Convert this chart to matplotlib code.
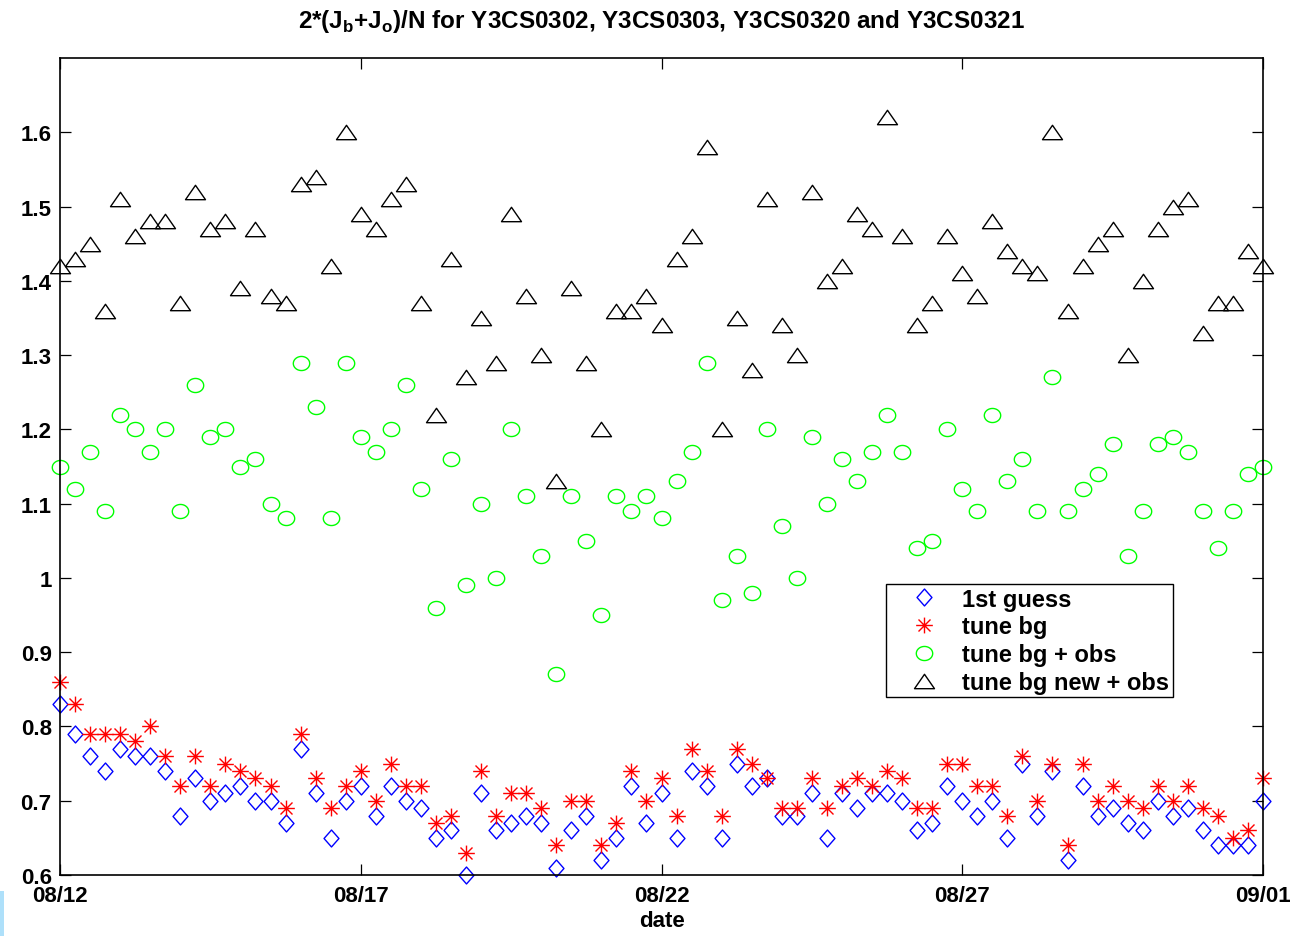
import numpy as np
import pandas as pd
import matplotlib
matplotlib.use("Agg")
import matplotlib.pyplot as plt
import matplotlib.dates as mdates
from matplotlib.path import Path
from matplotlib.ticker import FuncFormatter
from matplotlib.patches import Rectangle

plt.rcParams['font.family'] = ['Liberation Sans', 'DejaVu Sans']
plt.rcParams['font.weight'] = 'bold'
plt.rcParams['mathtext.fontset'] = 'custom'
plt.rcParams['mathtext.rm'] = 'Liberation Sans:bold'
plt.rcParams['mathtext.bf'] = 'Liberation Sans:bold'

# 6-hourly analysis times, 08/12 00Z to 09/01 00Z
times = pd.date_range('2004-08-12 00:00', periods=81, freq='6h')

first_guess = [
    0.83, 0.79, 0.76, 0.74, 0.77, 0.76, 0.76, 0.74, 0.68, 0.73,
    0.70, 0.71, 0.72, 0.70, 0.70, 0.67, 0.77, 0.71, 0.65, 0.70,
    0.72, 0.68, 0.72, 0.70, 0.69, 0.65, 0.66, 0.60, 0.71, 0.66,
    0.67, 0.68, 0.67, 0.61, 0.66, 0.68, 0.62, 0.65, 0.72, 0.67,
    0.71, 0.65, 0.74, 0.72, 0.65, 0.75, 0.72, 0.73, 0.68, 0.68,
    0.71, 0.65, 0.71, 0.69, 0.71, 0.71, 0.70, 0.66, 0.67, 0.72,
    0.70, 0.68, 0.70, 0.65, 0.75, 0.68, 0.74, 0.62, 0.72, 0.68,
    0.69, 0.67, 0.66, 0.70, 0.68, 0.69, 0.66, 0.64, 0.64, 0.64,
    0.70,
]

tune_bg = [
    0.86, 0.83, 0.79, 0.79, 0.79, 0.78, 0.80, 0.76, 0.72, 0.76,
    0.72, 0.75, 0.74, 0.73, 0.72, 0.69, 0.79, 0.73, 0.69, 0.72,
    0.74, 0.70, 0.75, 0.72, 0.72, 0.67, 0.68, 0.63, 0.74, 0.68,
    0.71, 0.71, 0.69, 0.64, 0.70, 0.70, 0.64, 0.67, 0.74, 0.70,
    0.73, 0.68, 0.77, 0.74, 0.68, 0.77, 0.75, 0.73, 0.69, 0.69,
    0.73, 0.69, 0.72, 0.73, 0.72, 0.74, 0.73, 0.69, 0.69, 0.75,
    0.75, 0.72, 0.72, 0.68, 0.76, 0.70, 0.75, 0.64, 0.75, 0.70,
    0.72, 0.70, 0.69, 0.72, 0.70, 0.72, 0.69, 0.68, 0.65, 0.66,
    0.73,
]

tune_bg_obs = [
    1.15, 1.12, 1.17, 1.09, 1.22, 1.20, 1.17, 1.20, 1.09, 1.26,
    1.19, 1.20, 1.15, 1.16, 1.10, 1.08, 1.29, 1.23, 1.08, 1.29,
    1.19, 1.17, 1.20, 1.26, 1.12, 0.96, 1.16, 0.99, 1.10, 1.00,
    1.20, 1.11, 1.03, 0.87, 1.11, 1.05, 0.95, 1.11, 1.09, 1.11,
    1.08, 1.13, 1.17, 1.29, 0.97, 1.03, 0.98, 1.20, 1.07, 1.00,
    1.19, 1.10, 1.16, 1.13, 1.17, 1.22, 1.17, 1.04, 1.05, 1.20,
    1.12, 1.09, 1.22, 1.13, 1.16, 1.09, 1.27, 1.09, 1.12, 1.14,
    1.18, 1.03, 1.09, 1.18, 1.19, 1.17, 1.09, 1.04, 1.09, 1.14,
    1.15,
]

tune_bg_new_obs = [
    1.42, 1.43, 1.45, 1.36, 1.51, 1.46, 1.48, 1.48, 1.37, 1.52,
    1.47, 1.48, 1.39, 1.47, 1.38, 1.37, 1.53, 1.54, 1.42, 1.60,
    1.49, 1.47, 1.51, 1.53, 1.37, 1.22, 1.43, 1.27, 1.35, 1.29,
    1.49, 1.38, 1.30, 1.13, 1.39, 1.29, 1.20, 1.36, 1.36, 1.38,
    1.34, 1.43, 1.46, 1.58, 1.20, 1.35, 1.28, 1.51, 1.34, 1.30,
    1.52, 1.40, 1.42, 1.49, 1.47, 1.62, 1.46, 1.34, 1.37, 1.46,
    1.41, 1.38, 1.48, 1.44, 1.42, 1.41, 1.60, 1.36, 1.42, 1.45,
    1.47, 1.30, 1.40, 1.47, 1.50, 1.51, 1.33, 1.37, 1.37, 1.44,
    1.42,
]

series_labels = ['1st guess', 'tune bg', 'tune bg + obs', 'tune bg new + obs']
tick_dates = ['2004-08-12', '2004-08-17', '2004-08-22', '2004-08-27', '2004-09-01']
y_ticks = [0.6, 0.7, 0.8, 0.9, 1.0, 1.1, 1.2, 1.3, 1.4, 1.5, 1.6]

# MATLAB-like marker shapes
diamond = Path([(0, 1), (-0.88, 0), (0, -1), (0.88, 0), (0, 1)],
               [Path.MOVETO, Path.LINETO, Path.LINETO, Path.LINETO, Path.CLOSEPOLY])
d = 0.72
asterisk = Path([(-1, 0), (1, 0), (0, -0.95), (0, 0.95),
                 (-d, -d), (d, d), (-d, d), (d, -d)],
                [Path.MOVETO, Path.LINETO] * 4)
t = np.linspace(0, 2 * np.pi, 60)
ellipse = Path(np.column_stack([np.cos(t), 0.86 * np.sin(t)]), closed=True)
triangle = Path([(0, 0.72), (-1, -0.72), (1, -0.72), (0, 0.72)],
                [Path.MOVETO, Path.LINETO, Path.LINETO, Path.CLOSEPOLY])

fig = plt.figure(figsize=(13.01, 9.37), dpi=100)
W, H = 1301, 937
ax = fig.add_axes([60 / W, 1 - 876 / H, 1203 / W, (876 - 59) / H])

mk = dict(linestyle='none', markerfacecolor='none', markeredgewidth=1.0,
          clip_on=False)
h1, = ax.plot(times, first_guess, marker=diamond, markersize=12.2,
              markeredgecolor=(0, 0, 1), label=series_labels[0], **mk)
h2, = ax.plot(times, tune_bg, marker=asterisk, markersize=12.0,
              markeredgecolor=(1, 0, 0), label=series_labels[1], **mk)
h3, = ax.plot(times, tune_bg_obs, marker=ellipse, markersize=11.8,
              markeredgecolor=(0, 1, 0), label=series_labels[2], **mk)
h4, = ax.plot(times, tune_bg_new_obs, marker=triangle, markersize=14.4,
              markeredgecolor='black', label=series_labels[3], **mk)

ax.set_xlim(pd.Timestamp(tick_dates[0]), pd.Timestamp(tick_dates[-1]))
ax.set_ylim(0.6, 1.7)
ax.set_xticks([pd.Timestamp(s) for s in tick_dates])
ax.xaxis.set_major_formatter(mdates.DateFormatter('%m/%d'))
ax.set_yticks(y_ticks)
ax.yaxis.set_major_formatter(FuncFormatter(lambda v, p: '%g' % round(v, 2)))

ax.tick_params(direction='in', length=8, width=0.9, top=True, right=True,
               labelsize=16, pad=6)
ax.tick_params(axis='x', pad=7)
for lab in ax.get_xticklabels() + ax.get_yticklabels():
    lab.set_fontweight('bold')
for sp in ax.spines.values():
    sp.set_linewidth(1.2)

ax.set_xlabel('date', fontsize=16, fontweight='bold', labelpad=3)
ax.set_title(r'2*(J$_{\mathbf{b}}$+J$_{\mathbf{o}}$)/N for Y3CS0302, Y3CS0303, Y3CS0320 and Y3CS0321',
             fontsize=17.5, fontweight='bold', pad=22)

leg = ax.legend(handles=[h1, h2, h3, h4], loc='upper left',
                bbox_to_anchor=(0.687, 0.356), fontsize=17, frameon=True,
                fancybox=False, framealpha=1, edgecolor='black',
                borderpad=0.15, handlelength=2.9, handletextpad=0.15,
                labelspacing=0.2, numpoints=1, borderaxespad=0)
leg.get_frame().set_linewidth(1.0)
for txt in leg.get_texts():
    txt.set_fontweight('bold')

# thin tinted strip at the lower-left edge of the page
fig.patches.append(Rectangle((0, 0), 4 / W, 45 / H, transform=fig.transFigure,
                             facecolor='#aee0fa', edgecolor='none'))

fig.savefig('out.png', dpi=100)
